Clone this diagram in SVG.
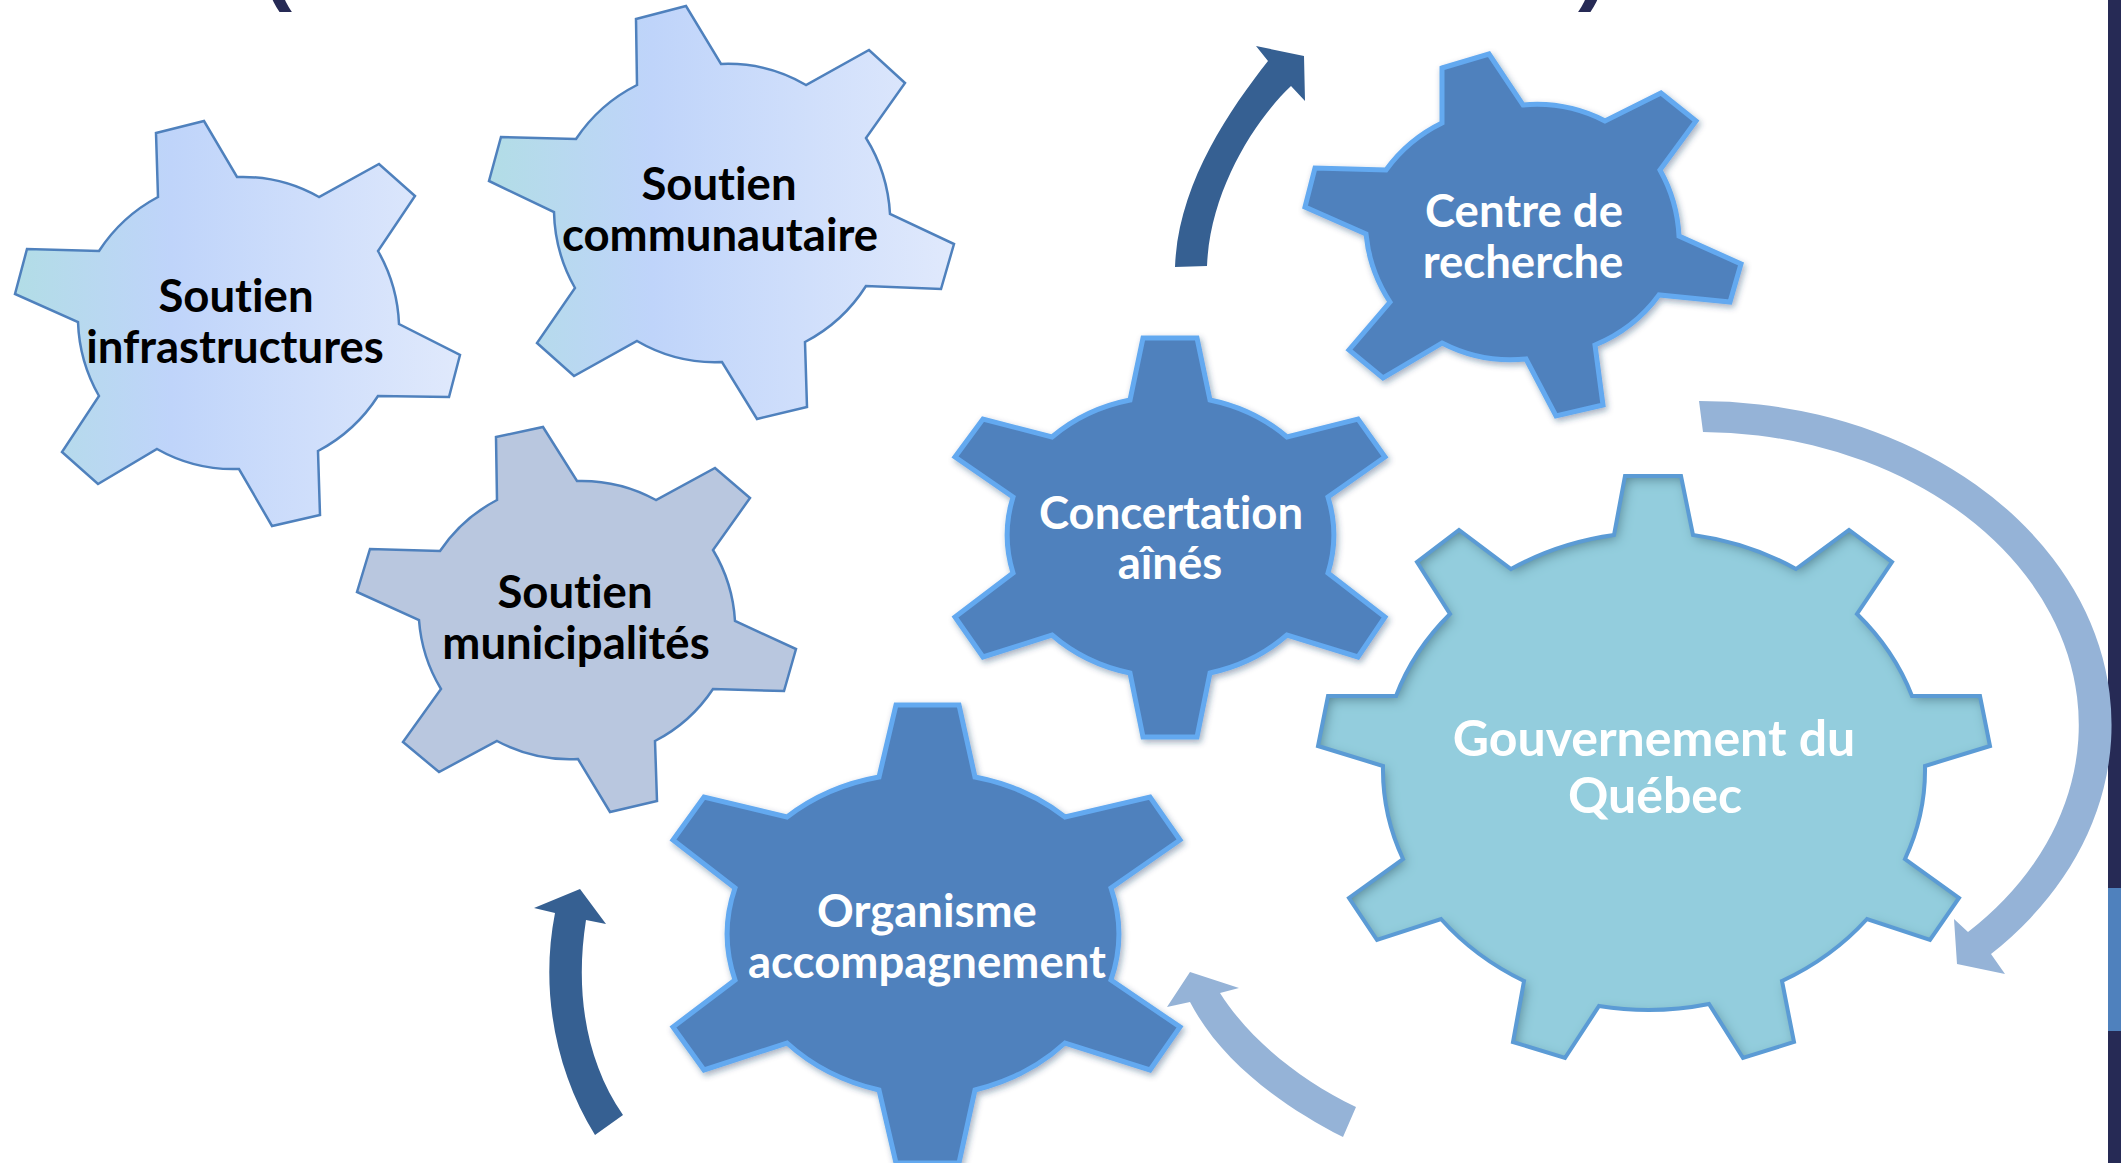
<svg xmlns="http://www.w3.org/2000/svg" width="2121" height="1163" viewBox="0 0 2121 1163">
<style>
.lbl{font-family:Lato,"Open Sans","Liberation Sans",sans-serif;font-weight:700;font-size:45.5px;text-anchor:middle;font-variant-ligatures:none;font-feature-settings:"liga" 0}
.dk{fill:#000000}
.wt{fill:#ffffff}
.big{font-size:50px}
.lightgear{stroke:#4F81BD;stroke-width:2.5;stroke-linejoin:miter}
.darkgear{fill:#4F81BD;stroke:#63A9F0;stroke-width:5;stroke-linejoin:miter}
.paren{font-family:"Liberation Sans",Arial,sans-serif;font-weight:700;font-size:90px;fill:#262A55}
</style>
<defs>
<linearGradient id="gLight" x1="0" y1="0" x2="1" y2="0">
<stop offset="0" stop-color="#B2DDE6"/>
<stop offset="0.35" stop-color="#BFD4FA"/>
<stop offset="1" stop-color="#E0E9FC"/>
</linearGradient>
<filter id="shadow" x="-10%" y="-10%" width="120%" height="120%">
<feDropShadow dx="2" dy="3" stdDeviation="3" flood-color="#1f3a5f" flood-opacity="0.4"/>
</filter>
<filter id="inner" x="-5%" y="-5%" width="110%" height="110%">
<feFlood flood-color="#2B5F70" flood-opacity="0.75"/>
<feComposite in2="SourceAlpha" operator="out"/>
<feGaussianBlur stdDeviation="6"/>
<feOffset dx="3" dy="4"/>
<feComposite in2="SourceAlpha" operator="in" result="sh"/>
<feMerge><feMergeNode in="SourceGraphic"/><feMergeNode in="sh"/></feMerge>
</filter>
<path id="govPath" d="M1625,476 L1681,476 L1693,535 A271,236 0 0 1 1796,569 L1849,530 L1892,562 L1857,614 A271,236 0 0 1 1912,696 L1980,696 L1990,746 L1925,766 A271,236 0 0 1 1905,859 L1959,898 L1930,940 L1867,919 A271,236 0 0 1 1782,981 L1794,1042 L1743,1058 L1709,1004 A271,236 0 0 1 1599,1006 L1565,1058 L1513,1042 L1524,981 A271,236 0 0 1 1441,919 L1377,940 L1349,898 L1403,859 A271,236 0 0 1 1383,766 L1318,746 L1328,696 L1396,696 A271,236 0 0 1 1450,614 L1417,562 L1459,530 L1511,569 A271,236 0 0 1 1614,535 Z"/>
</defs>

<rect x="0" y="0" width="2121" height="1163" fill="#ffffff"/>

<!-- partial title fragments -->
<text class="paren" x="262" y="-7">(</text>
<text class="paren" x="1578" y="-7">)</text>

<!-- side bar -->
<rect x="2108" y="0" width="13" height="1163" fill="#262A55"/>
<rect x="2108" y="888" width="13" height="143" fill="#4F81BD"/>

<g id="connectors">
<path id="arrow-top" fill="#366092" d="M1175,267 C1178,185 1228,112 1268,61 L1256,46 L1304,56 L1305,101 L1291,86 C1255,120 1210,190 1207,266 Z"/>
<path id="arrow-right" fill="#95B3D7" d="M1699,401 A412,324 0 0 1 1991,954 L2005,974 L1957,964 L1954,919 L1968,932 A379,293 0 0 0 1703,432 Z"/>
<path id="arrow-bottom" fill="#95B3D7" d="M1343,1137 C1280,1105 1220,1060 1190,1002 L1167,1007 L1190,972 L1239,988 L1220,993 C1250,1040 1300,1080 1356,1107 Z"/>
<path id="arrow-left" fill="#366092" d="M595,1135 C555,1070 540,990 555,913 L534,908 L580,889 L606,924 L586,920 C575,990 585,1060 623,1115 Z"/>
</g>

<g id="gear-infrastructures">
<path class="lightgear" fill="url(#gLight)" d="M156,133 L204,121 L237,177 A155,155 0 0 1 319,197 L379,164 L415,196 L378,251 A160,160 0 0 1 399,324 L460,355 L449,397 L378,396 A160,160 0 0 1 318,451 L320,515 L272,526 L239,469 A155,155 0 0 1 157,449 L98,484 L62,452 L99,396 A160,160 0 0 1 78,322 L15,294 L27,249 L99,251 A160,160 0 0 1 158,197 Z"/>
<text class="lbl dk" x="236" y="312">Soutien</text>
<text class="lbl dk" x="235" y="363">infrastructures</text>
</g>

<g id="gear-communautaire">
<path class="lightgear" fill="url(#gLight)" d="M636,19 L686,6 L721,64 A155,155 0 0 1 806,85 L869,50 L905,83 L866,138 A160,160 0 0 1 890,214 L954,244 L941,289 L866,286 A160,160 0 0 1 805,342 L807,407 L757,419 L722,362 A155,155 0 0 1 637,341 L574,376 L537,343 L575,288 A160,160 0 0 1 554,212 L489,181 L501,137 L576,139 A160,160 0 0 1 637,85 Z"/>
<text class="lbl dk" x="719" y="200">Soutien</text>
<text class="lbl dk" x="720" y="251">communautaire</text>
</g>

<g id="gear-municipalites">
<path class="lightgear" fill="#B9C7DF" d="M496,437 L543,427 L577,481 A155,155 0 0 1 656,500 L715,468 L750,498 L713,550 A155,155 0 0 1 735,621 L796,649 L784,691 L713,689 A155,155 0 0 1 655,741 L657,801 L610,812 L578,759 A155,155 0 0 1 497,741 L439,772 L403,742 L441,689 A155,155 0 0 1 419,620 L357,592 L370,549 L440,551 A155,155 0 0 1 497,500 Z"/>
<text class="lbl dk" x="575" y="608">Soutien</text>
<text class="lbl dk" x="576" y="659">municipalités</text>
</g>

<g id="gear-centre-recherche">
<path class="darkgear" filter="url(#shadow)" d="M1442,68 L1489,54 L1523,105 A150,150 0 0 1 1605,121 L1661,93 L1696,121 L1660,170 A150,150 0 0 1 1679,236 L1741,264 L1730,302 L1659,295 A150,150 0 0 1 1595,345 L1603,405 L1556,416 L1526,359 A150,150 0 0 1 1442,343 L1383,378 L1349,350 L1390,302 A150,150 0 0 1 1366,234 L1305,207 L1315,168 L1386,170 A150,150 0 0 1 1442,123 Z"/>
<text class="lbl wt" x="1524" y="227">Centre de</text>
<text class="lbl wt" x="1523" y="278">recherche</text>
</g>

<g id="gear-concertation">
<path class="darkgear" filter="url(#shadow)" d="M1143,338 L1197,338 L1210,400 A165,145 0 0 1 1287,437 L1358,419 L1385,457 L1328,497 A165,145 0 0 1 1328,573 L1385,617 L1358,657 L1287,635 A165,145 0 0 1 1210,673 L1197,737 L1143,737 L1130,673 A165,145 0 0 1 1052,635 L983,657 L955,617 L1013,573 A165,145 0 0 1 1013,497 L955,457 L983,419 L1052,437 A165,145 0 0 1 1130,400 Z"/>
<text class="lbl wt" x="1171" y="529">Concertation</text>
<text class="lbl wt" x="1170" y="579">aînés</text>
</g>

<g id="gear-organisme">
<path class="darkgear" filter="url(#shadow)" d="M896,705 L959,705 L975,777 A196,165 0 0 1 1065,817 L1150,797 L1180,840 L1111,888 A196,165 0 0 1 1111,980 L1180,1027 L1150,1070 L1065,1043 A196,165 0 0 1 975,1090 L959,1163 L896,1163 L879,1090 A196,165 0 0 1 787,1043 L704,1070 L673,1027 L735,980 A196,165 0 0 1 735,888 L673,840 L704,797 L787,817 A196,165 0 0 1 879,777 Z"/>
<text class="lbl wt" x="927" y="927">Organisme</text>
<text class="lbl wt" x="927" y="978">accompagnement</text>
</g>

<g id="gear-gouvernement">
<use href="#govPath" fill="#93CDDD" filter="url(#inner)"/>
<use href="#govPath" fill="none" stroke="#5B9BD5" stroke-width="4"/>
<text class="lbl wt big" x="1654" y="756">Gouvernement du</text>
<text class="lbl wt big" x="1655" y="813">Québec</text>
</g>
</svg>
